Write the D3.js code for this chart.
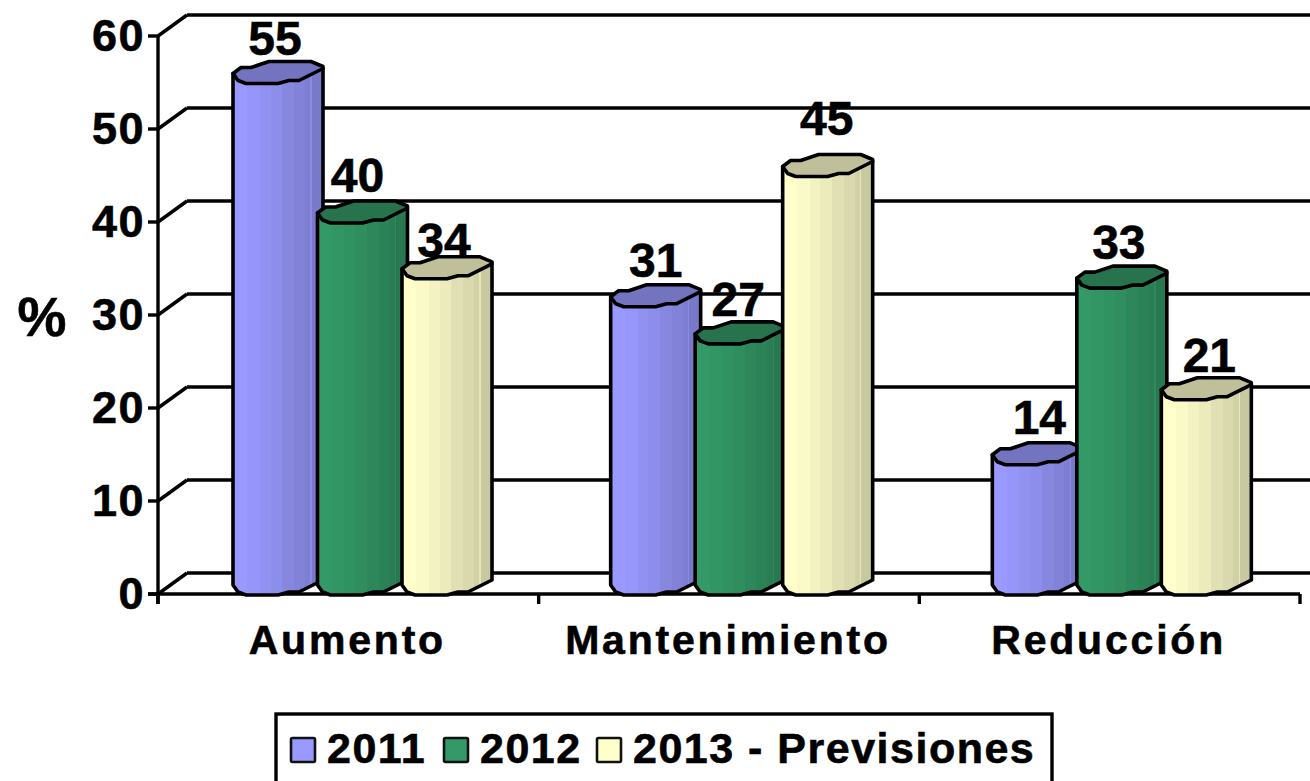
<!DOCTYPE html>
<html><head><meta charset="utf-8">
<script src="https://cdn.jsdelivr.net/npm/d3@7/dist/d3.min.js"></script>
<style>html,body{margin:0;padding:0;background:#fff;overflow:hidden}text{font-family:"Liberation Sans",Arial,sans-serif;font-weight:bold;fill:#000;stroke:#000;stroke-width:.6}</style>
</head><body><svg id="c" width="1310" height="781"></svg>
<script>
const categories = ["Aumento", "Mantenimiento", "Reducción"];
const seriesNames = ["2011", "2012", "2013 - Previsiones"];
const values2011 = [55, 31, 14];
const values2012 = [40, 27, 33];
const values2013 = [34, 45, 21];
const allValues = [values2011, values2012, values2013];
const yTicks = [0, 10, 20, 30, 40, 50, 60];
const baseColors = ["#9999FF", "#339966", "#FFFFCC"];

// manual nudges by series, category
const labelNudge = [
  [[-1, 0], [-1, -1], [2, -2]],
  [[-3, -2], [-3, 1], [-3, 0]],
  [[-1, 7], [1, -13], [3, 1]]
];
const barNudge = [[1, -2, -1], [1, -2, -1], [1, 1, -1]];

const svg = d3.select("#c");
const depthX = 29, depthY = 21;
const y = d3.scaleLinear().domain([0, 60]).range([594, 36]);
const x0 = d3.scaleBand().domain(categories).range([158, 1300]);
const x1 = d3.scaleBand().domain(d3.range(3)).range([74, 74 + 84.5 * 3]);

// walls and gridlines
const g = svg.append("g").attr("stroke", "#000").attr("stroke-width", 3.4).attr("fill", "none");
yTicks.forEach(t => {
  const yy = y(t);
  g.append("line").attr("x1", 158).attr("y1", yy).attr("x2", 158 + depthX).attr("y2", yy - depthY);
  g.append("line").attr("x1", 158 + depthX).attr("y1", yy - depthY).attr("x2", 1310).attr("y2", yy - depthY);
  g.append("line").attr("x1", 148).attr("y1", yy).attr("x2", 158).attr("y2", yy);
});
g.append("line").attr("x1", 158).attr("y1", y(60)).attr("x2", 158).attr("y2", 604);
g.append("line").attr("x1", 148).attr("y1", y(0)).attr("x2", 1300).attr("y2", y(0));
[...categories.map(c => x0(c)), 1300].forEach(px => {
  g.append("line").attr("x1", px).attr("y1", 594).attr("x2", px).attr("y2", 604);
});

// tick labels
svg.append("g").selectAll("text").data(yTicks).join("text")
  .attr("x", 145).attr("y", d => y(d) + 15).attr("text-anchor", "end")
  .attr("font-size", 45).attr("letter-spacing", 1.5).text(d => d);

svg.append("text").attr("x", 42).attr("y", 336).attr("text-anchor", "middle")
  .attr("font-size", 55).text("%");

svg.append("g").selectAll("text").data(categories).join("text")
  .attr("x", d => x0(d) + x0.bandwidth() / 2 - 1)
  .attr("y", 654).attr("text-anchor", "middle")
  .attr("font-size", 41).attr("letter-spacing", 2.8).text(d => d);

// gradients: stepped facets of the cylinder
const defs = svg.append("defs");
const facetStops = [0, .16, .3, .42, .55, .68, .8, .86, .875, 1];
const facetDark = [1, .98, .95, .92, .88, .85, .82, .9, .79, .75];
const tint = (hex, k) => { const c = d3.rgb(hex); return d3.rgb(c.r * k, c.g * k, c.b * k).formatHex(); };
baseColors.forEach((col, i) => {
  const lg = defs.append("linearGradient").attr("id", "grad" + i);
  facetDark.forEach((k, j) => {
    lg.append("stop").attr("offset", facetStops[j]).attr("stop-color", tint(col, k));
    lg.append("stop").attr("offset", j < facetDark.length - 1 ? facetStops[j + 1] : 1).attr("stop-color", tint(col, k));
  });
});

// cylinder outline
const lowerRim = [[0, -10], [5, -3], [13, 0], [45, 0], [56, -3], [66, -3], [90, -15]];
const upperRim = [[90, -17], [78, -22], [36, -22], [18, -16], [8, -16]];
const pathFrom = pts => "M" + pts.map(p => p.join(",")).join("L") + "Z";

allValues.forEach((vals, s) => {
  const sg = svg.append("g");
  vals.forEach((v, c) => {
    const left = x0(categories[c]) + x1(s) + barNudge[s][c];
    const top = y(v) + 1, bot = y(0) + 1;
    const bodyPts = [
      [left, top - 10],
      ...lowerRim.map(([dx, dy]) => [left + dx, bot + dy]),
      [left + 90, top - 15]
    ];
    const topPts = [...lowerRim, ...upperRim].map(([dx, dy]) => [left + dx, top + dy]);
    sg.append("path").attr("d", pathFrom(bodyPts)).attr("fill", `url(#grad${s})`)
      .attr("stroke", "#000").attr("stroke-width", 3.6).attr("stroke-linejoin", "round");
    sg.append("path").attr("d", pathFrom(topPts)).attr("fill", tint(baseColors[s], .75))
      .attr("stroke", "#000").attr("stroke-width", 3.6).attr("stroke-linejoin", "round");
  });
});

// value labels
allValues.forEach((vals, s) => {
  svg.append("g").selectAll("text").data(vals).join("text")
    .attr("x", (d, c) => x0(categories[c]) + x1(s) + 44 + labelNudge[s][c][0])
    .attr("y", (d, c) => y(d) - 28 + labelNudge[s][c][1])
    .attr("text-anchor", "middle").attr("font-size", 48).text(d => d);
});

// legend
svg.append("rect").attr("x", 276).attr("y", 714).attr("width", 776).attr("height", 90)
  .attr("fill", "#fff").attr("stroke", "#000").attr("stroke-width", 3.4);
const swatchX = d3.scalePoint().domain(seriesNames).range([291, 597]);
seriesNames.forEach((n, i) => {
  const sx = swatchX(n);
  svg.append("rect").attr("x", sx).attr("y", 738).attr("width", 24).attr("height", 24)
    .attr("fill", baseColors[i]).attr("stroke", "#111").attr("stroke-width", 2.6).attr("rx", 1.5);
  svg.append("text").attr("x", sx + 36).attr("y", 763).attr("font-size", 43)
    .attr("letter-spacing", 1.5).text(n);
});
</script></body></html>
